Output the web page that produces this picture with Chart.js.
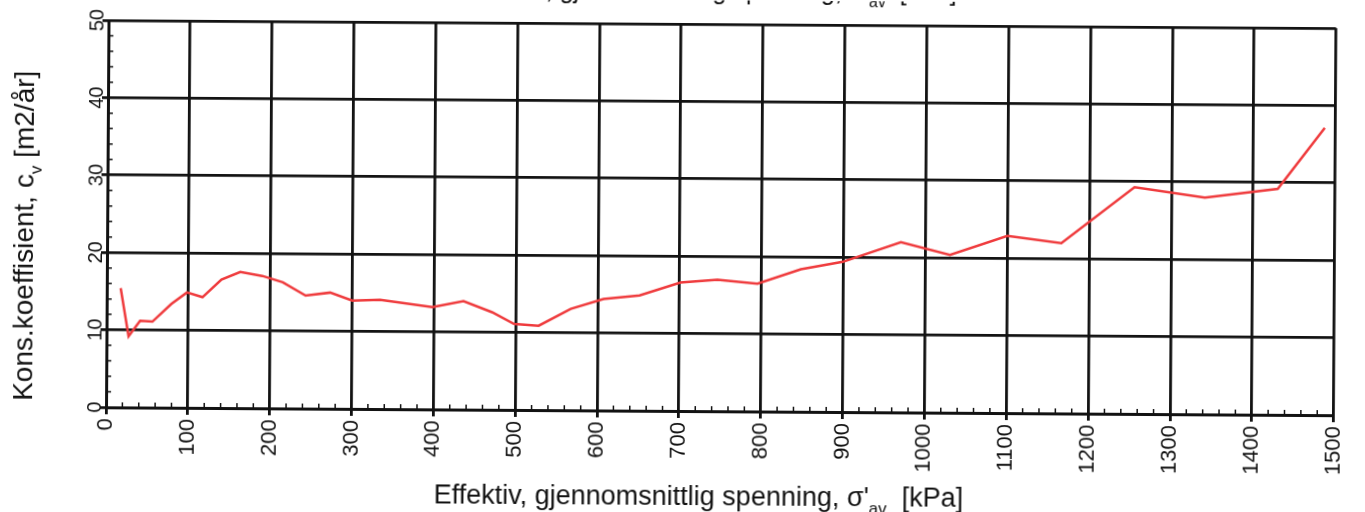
<!DOCTYPE html>
<html>
<head>
<meta charset="utf-8">
<script src="https://cdn.jsdelivr.net/npm/chart.js@4.4.0/dist/chart.umd.min.js"></script>
<style>
  html, body { margin: 0; padding: 0; background: #fff; overflow: hidden; }
  #ark { width: 1365px; height: 512px; transform: rotate(0.37deg); }
</style>
</head>
<body>
<div id="ark"><canvas id="graf" width="1365" height="512"></canvas></div>
<script>
// effektiv gjennomsnittlig spenning (kPa) og målt cv (m2/år)
const spenning = [17, 27, 41, 56, 79, 98, 117, 140, 163, 190, 215, 243, 273, 300, 334, 398, 436, 471, 498, 528,
  567, 607, 651, 701, 746, 795, 848, 899, 970, 1030, 1100, 1166, 1255, 1341, 1430, 1487];
const cv = [15.4, 9.2, 11.2, 11.1, 13.4, 14.9, 14.3, 16.6, 17.6, 17.1, 16.3, 14.6, 15.0, 14.0, 14.1, 13.2, 14.0, 12.6, 11.1, 10.9,
  13.1, 14.4, 14.9, 16.6, 17.0, 16.5, 18.4, 19.4, 22.0, 20.4, 22.9, 22.0, 29.3, 28.0, 29.2, 37.1];

const xTicks = [0, 100, 200, 300, 400, 500, 600, 700, 800, 900, 1000, 1100, 1200, 1300, 1400, 1500];
const yTicks = [0, 10, 20, 30, 40, 50];

const FONT = "'Liberation Sans', Arial, sans-serif";
const SVART = "#121212";

// tekst med senket indeks, deler = [[tekst, erIndeks], ...]
function skrivMedIndeks(ctx, deler, x, y, str, justering) {
  const liten = Math.round(str * 0.62);
  let bredde = 0;
  deler.forEach(([t, sub]) => {
    ctx.font = (sub ? liten : str) + "px " + FONT;
    bredde += ctx.measureText(t).width;
  });
  let pos = justering === "right" ? x - bredde : x - bredde / 2;
  ctx.textAlign = "left";
  ctx.textBaseline = "alphabetic";
  deler.forEach(([t, sub]) => {
    ctx.font = (sub ? liten : str) + "px " + FONT;
    ctx.fillText(t, pos, y + (sub ? str * 0.28 : 0));
    pos += ctx.measureText(t).width;
  });
}

const ekstra = {
  id: "ekstra",
  afterDraw(chart) {
    const { ctx, chartArea: a, scales } = chart;
    const xs = scales.x, ys = scales.y;
    ctx.save();
    ctx.strokeStyle = SVART;
    ctx.fillStyle = SVART;
    ctx.lineWidth = 1.5;

    // små merker langs aksene
    ctx.beginPath();
    for (let v = 20; v < 1500; v += 20) {
      if (v % 100 === 0) continue;
      const px = xs.getPixelForValue(v);
      ctx.moveTo(px, a.bottom);
      ctx.lineTo(px, a.bottom - 5);
    }
    for (let v = 2; v < 50; v += 2) {
      if (v % 10 === 0) continue;
      const py = ys.getPixelForValue(v);
      ctx.moveTo(a.left, py);
      ctx.lineTo(a.left + 5, py);
    }
    ctx.stroke();

    // y-verdier, stående
    ctx.font = "20px " + FONT;
    ctx.textAlign = "center";
    ctx.textBaseline = "middle";
    yTicks.forEach(v => {
      ctx.save();
      ctx.translate(a.left - 11, ys.getPixelForValue(v));
      ctx.rotate(-Math.PI / 2);
      ctx.fillText(String(v), 0, 0);
      ctx.restore();
    });

    // aksetitler
    ctx.save();
    ctx.translate(33, 240);
    ctx.rotate(-Math.PI / 2);
    skrivMedIndeks(ctx, [["Kons.koeffisient, c", false], ["v", true], [" [m2/år]", false]], 0, 0, 28);
    ctx.restore();

    skrivMedIndeks(ctx, [["Effektiv, gjennomsnittlig spenning, σ'", false], ["av", true], ["  [kPa]", false]], 700, 505, 27);

    // overskrift, bare nedre del ses
    skrivMedIndeks(ctx, [["cv mot effektiv, gjennomsnittlig spenning, σ'", false], ["av", true], ["  [kPa]", false]], 955, -1, 25, "right");

    ctx.restore();
  }
};

new Chart(document.getElementById("graf"), {
  type: "scatter",
  data: {
    datasets: [{
      data: spenning.map((s, i) => ({ x: s, y: cv[i] })),
      showLine: true,
      borderColor: "#ef3b3d",
      borderWidth: 2.5,
      pointRadius: 0,
      tension: 0
    }]
  },
  options: {
    responsive: false,
    animation: false,
    layout: { padding: { top: 24, right: 22, left: 0, bottom: 0 } },
    plugins: { legend: { display: false }, tooltip: { enabled: false } },
    scales: {
      x: {
        type: "linear",
        min: 0,
        max: 1500,
        afterBuildTicks: s => { s.ticks = xTicks.map(v => ({ value: v })); },
        afterFit: s => { s.height = 101; },
        ticks: {
          color: SVART,
          font: { family: FONT, size: 22 },
          minRotation: 90,
          maxRotation: 90,
          autoSkip: false,
          padding: 4,
          callback: v => String(v)
        },
        grid: { color: SVART, lineWidth: 2.8, tickLength: 7, tickColor: SVART },
        border: { color: SVART, width: 3 }
      },
      y: {
        min: 0,
        max: 50,
        afterBuildTicks: s => { s.ticks = yTicks.map(v => ({ value: v })); },
        afterFit: s => { s.width = 107; },
        ticks: { display: false },
        grid: { color: SVART, lineWidth: 2.8, tickLength: 6, tickColor: SVART },
        border: { color: SVART, width: 3 }
      }
    }
  },
  plugins: [ekstra]
});
</script>
</body>
</html>
